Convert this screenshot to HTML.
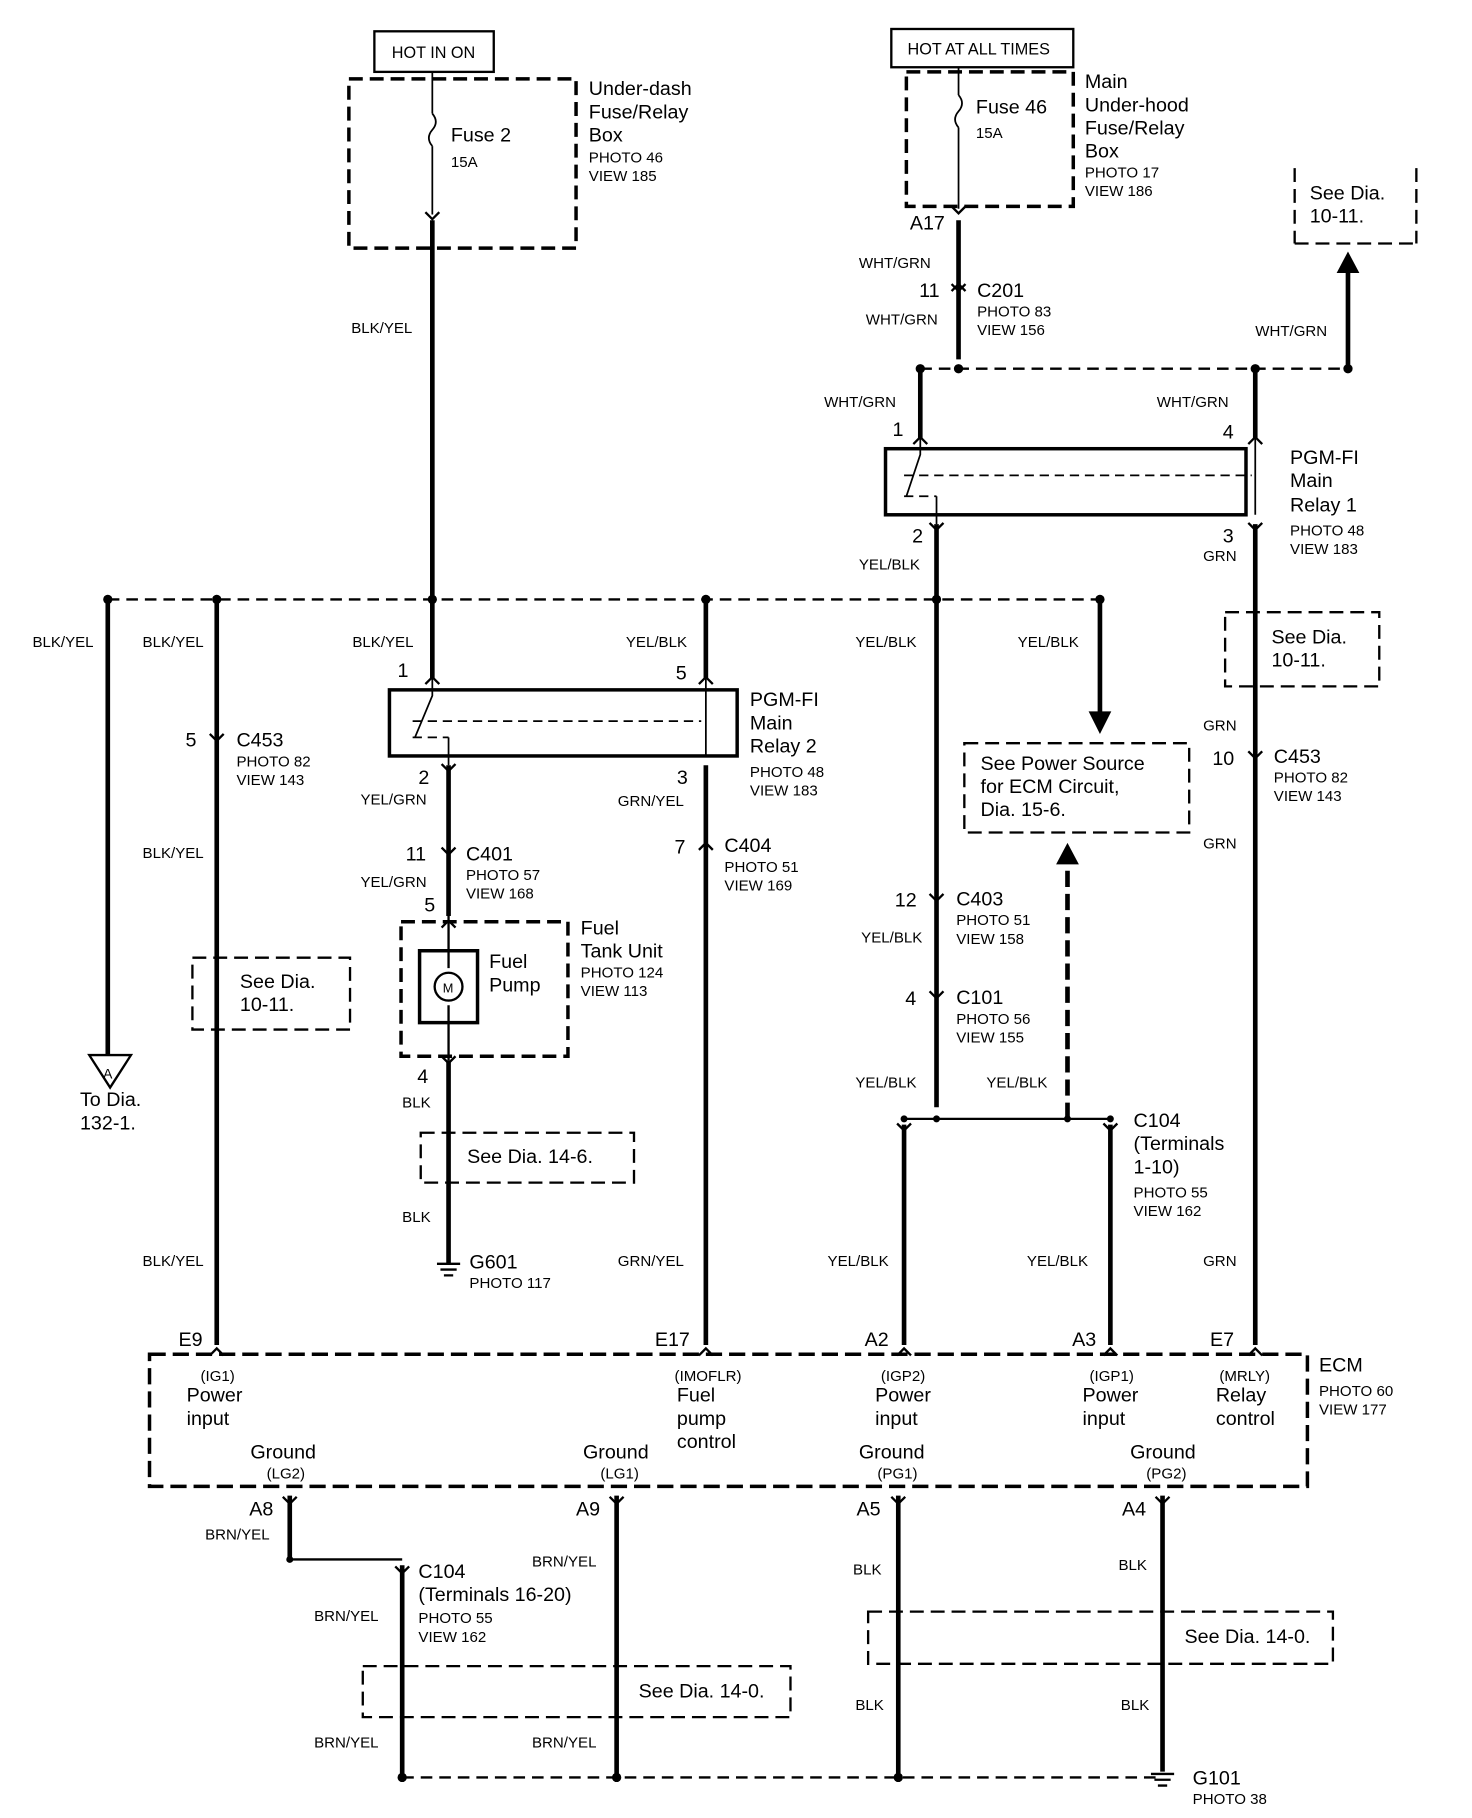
<!DOCTYPE html>
<html><head><meta charset="utf-8"><style>
html,body{margin:0;padding:0;background:#fff}
svg{display:block}
text{font-family:"Liberation Sans",sans-serif;fill:#000}
.b{font-size:17px}.s{font-size:13px}.m{font-size:14px}
</style></head><body>
<svg width="1472" height="1818" viewBox="0 0 1270 1568" preserveAspectRatio="none" xmlns="http://www.w3.org/2000/svg">
<defs>
<g id="cd"><path d="M-6,-7 L0,-1 L6,-7" fill="none" stroke="#000" stroke-width="2"/></g>
<g id="cu"><path d="M-6,7 L0,1 L6,7" fill="none" stroke="#000" stroke-width="2"/></g>
</defs>
<g stroke="#000" fill="none">
<!-- top boxes -->
<rect x="323" y="27" width="103" height="35" stroke-width="2"/>
<rect x="301" y="68" width="196" height="146" stroke-width="3" stroke-dasharray="12,6"/>
<rect x="769" y="25" width="157" height="33" stroke-width="2"/>
<rect x="782" y="62" width="144" height="116" stroke-width="3" stroke-dasharray="12,6"/>
<path d="M373,62V98 M373,126V185 M827,58V82 M827,122V180" stroke-width="1.5"/>
<path d="M373,98 q6,7 0,14 q-6,7 0,14 M827,82 q6,7 0,14 q-6,7 0,14 M827,110 V122" stroke-width="1.5"/>
<!-- thick wires -->
<g stroke-width="4">
<path d="M373,190V585 M827,190V310 M794,318V378 M1083,318V378 M1163,318V232 M808,452V955 M1083,452V1160 M93,517V910 M187,517V1160 M609,517V585 M609,660V1160 M387,660V790 M387,915V1090 M949,517V618 M780,970V1160 M958,970V1160 M250,1290V1345 M347,1350V1533 M532,1290V1533 M775,1290V1533 M1003,1290V1528"/>
<path d="M921,965V740" stroke-dasharray="14,6"/>
</g>
<path d="M1154,235 L1163,218 L1172,235Z" fill="#000"/>
<path d="M940,614 L949,632 L958,614Z" fill="#000"/>
<path d="M912,745 L921,728 L930,745Z" fill="#000"/>
<!-- dashed buses -->
<path d="M794,318H1163 M93,517H949 M347,1533H1003" stroke-width="2" stroke-dasharray="10,6"/>
<path d="M778,965H958 M250,1345H347" stroke-width="2"/>
<!-- see dia boxes -->
<path d="M1117,145V210 M1222,145V210 M1117,210H1222" stroke-width="2" stroke-dasharray="12,6"/>
<path d="M1057,528H1190V592H1057Z" stroke-width="2" stroke-dasharray="12,6"/>
<path d="M166,826H302V888H166Z" stroke-width="2" stroke-dasharray="12,6"/>
<path d="M363,977H547V1020H363Z" stroke-width="2" stroke-dasharray="12,6"/>
<path d="M832,641H1026V718H832Z" stroke-width="2" stroke-dasharray="12,6"/>
<path d="M313,1437H682V1481H313Z" stroke-width="2" stroke-dasharray="12,6"/>
<path d="M749,1390H1150V1435H749Z" stroke-width="2" stroke-dasharray="12,6"/>
<!-- relays -->
<rect x="764" y="387" width="311" height="57" stroke-width="3"/>
<path d="M780,410H1080 M780,428H808" stroke-width="1.5" stroke-dasharray="8,5"/>
<path d="M794,378V392 L782,428 M808,428V452 M1083,378V444" stroke-width="1.5"/>
<rect x="336" y="595" width="300" height="57" stroke-width="3"/>
<path d="M356,622H605 M356,636H387" stroke-width="1.5" stroke-dasharray="8,5"/>
<path d="M373,585V600 L358,636 M387,636V660 M609,585V652" stroke-width="1.5"/>
<!-- fuel tank -->
<rect x="346" y="795" width="144" height="116" stroke-width="3" stroke-dasharray="12,6"/>
<rect x="362" y="820" width="50" height="62" stroke-width="3"/>
<path d="M387,790V835 M387,867V915" stroke-width="2"/>
<circle cx="387" cy="851" r="12" stroke-width="2"/>
<!-- ECM -->
<rect x="129" y="1168" width="999" height="114" stroke-width="3" stroke-dasharray="14,6"/>
<!-- triangle -->
<path d="M77,910H113L95,938Z" stroke-width="2"/>
</g>
<g fill="#000">
<circle cx="794" cy="318" r="4"/><circle cx="827" cy="318" r="4"/><circle cx="1083" cy="318" r="4"/><circle cx="1163" cy="318" r="4"/>
<circle cx="93" cy="517" r="4"/><circle cx="187" cy="517" r="4"/><circle cx="373" cy="517" r="4"/><circle cx="609" cy="517" r="4"/><circle cx="808" cy="517" r="4"/><circle cx="949" cy="517" r="4"/>
<circle cx="780" cy="965" r="3"/><circle cx="808" cy="965" r="3"/><circle cx="921" cy="965" r="3"/><circle cx="958" cy="965" r="3"/>
<circle cx="250" cy="1345" r="3"/><circle cx="347" cy="1533" r="4"/><circle cx="532" cy="1533" r="4"/><circle cx="775" cy="1533" r="4"/>
</g>
<!-- connectors -->
<use href="#cd" x="373" y="190"/><use href="#cd" x="827" y="185"/><use href="#cu" x="827" y="244"/><use href="#cd" x="827" y="252"/>
<use href="#cu" x="794" y="376"/><use href="#cu" x="1083" y="376"/><use href="#cd" x="808" y="458"/><use href="#cd" x="1083" y="458"/>
<use href="#cu" x="373" y="583"/><use href="#cu" x="609" y="583"/><use href="#cd" x="387" y="666"/>
<use href="#cd" x="187" y="640"/><use href="#cd" x="1083" y="655"/><use href="#cd" x="387" y="738"/><use href="#cu" x="609" y="726"/>
<use href="#cu" x="387" y="793"/><use href="#cd" x="387" y="918"/><use href="#cd" x="808" y="778"/><use href="#cd" x="808" y="862"/>
<use href="#cd" x="780" y="976"/><use href="#cd" x="958" y="976"/>
<use href="#cu" x="187" y="1162"/><use href="#cu" x="609" y="1162"/><use href="#cu" x="780" y="1162"/><use href="#cu" x="958" y="1162"/><use href="#cu" x="1083" y="1162"/>
<use href="#cd" x="250" y="1298"/><use href="#cd" x="532" y="1298"/><use href="#cd" x="775" y="1298"/><use href="#cd" x="1003" y="1298"/><use href="#cd" x="347" y="1358"/>
<!-- grounds -->
<g stroke="#000" stroke-width="2"><path d="M377,1090H397 M380,1095H394 M383,1100H391 M993,1530H1013 M996,1535H1010 M999,1540H1007"/></g>
<!-- text -->
<text x="338" y="50" class="m">HOT IN ON</text>
<text x="783" y="47" class="m">HOT AT ALL TIMES</text>
<text x="508" y="82" class="b">Under-dash</text><text x="508" y="102" class="b">Fuse/Relay</text><text x="508" y="122" class="b">Box</text>
<text x="508" y="140" class="s">PHOTO 46</text><text x="508" y="156" class="s">VIEW 185</text>
<text x="389" y="122" class="b">Fuse 2</text><text x="389" y="144" class="s">15A</text>
<text x="842" y="98" class="b">Fuse 46</text><text x="842" y="119" class="s">15A</text>
<text x="936" y="76" class="b">Main</text><text x="936" y="96" class="b">Under-hood</text><text x="936" y="116" class="b">Fuse/Relay</text><text x="936" y="136" class="b">Box</text>
<text x="936" y="153" class="s">PHOTO 17</text><text x="936" y="169" class="s">VIEW 186</text>
<text x="785" y="198" class="b">A17</text>
<text x="741" y="231" class="s">WHT/GRN</text><text x="793" y="256" class="b">11</text><text x="843" y="256" class="b">C201</text>
<text x="747" y="280" class="s">WHT/GRN</text><text x="843" y="273" class="s">PHOTO 83</text><text x="843" y="289" class="s">VIEW 156</text>
<text x="1130" y="172" class="b">See Dia.</text><text x="1130" y="192" class="b">10-11.</text>
<text x="1083" y="290" class="s">WHT/GRN</text>
<text x="711" y="351" class="s">WHT/GRN</text><text x="998" y="351" class="s">WHT/GRN</text>
<text x="770" y="376" class="b">1</text><text x="1055" y="378" class="b">4</text>
<text x="1113" y="400" class="b">PGM-FI</text><text x="1113" y="420" class="b">Main</text><text x="1113" y="441" class="b">Relay 1</text>
<text x="1113" y="462" class="s">PHOTO 48</text><text x="1113" y="478" class="s">VIEW 183</text>
<text x="787" y="468" class="b">2</text><text x="1055" y="468" class="b">3</text>
<text x="741" y="491" class="s">YEL/BLK</text><text x="1038" y="484" class="s">GRN</text>
<text x="28" y="558" class="s">BLK/YEL</text><text x="123" y="558" class="s">BLK/YEL</text><text x="304" y="558" class="s">BLK/YEL</text>
<text x="540" y="558" class="s">YEL/BLK</text><text x="738" y="558" class="s">YEL/BLK</text><text x="878" y="558" class="s">YEL/BLK</text>
<text x="303" y="287" class="s">BLK/YEL</text>
<text x="1097" y="555" class="b">See Dia.</text><text x="1097" y="575" class="b">10-11.</text>
<text x="343" y="584" class="b">1</text><text x="583" y="586" class="b">5</text>
<text x="647" y="609" class="b">PGM-FI</text><text x="647" y="629" class="b">Main</text><text x="647" y="649" class="b">Relay 2</text>
<text x="647" y="670" class="s">PHOTO 48</text><text x="647" y="686" class="s">VIEW 183</text>
<text x="160" y="644" class="b">5</text><text x="204" y="644" class="b">C453</text><text x="204" y="661" class="s">PHOTO 82</text><text x="204" y="677" class="s">VIEW 143</text>
<text x="1038" y="630" class="s">GRN</text><text x="1046" y="660" class="b">10</text><text x="1099" y="658" class="b">C453</text><text x="1099" y="675" class="s">PHOTO 82</text><text x="1099" y="691" class="s">VIEW 143</text>
<text x="846" y="664" class="b">See Power Source</text><text x="846" y="684" class="b">for ECM Circuit,</text><text x="846" y="704" class="b">Dia. 15-6.</text>
<text x="361" y="676" class="b">2</text><text x="584" y="676" class="b">3</text>
<text x="311" y="694" class="s">YEL/GRN</text><text x="533" y="695" class="s">GRN/YEL</text>
<text x="1038" y="732" class="s">GRN</text>
<text x="123" y="740" class="s">BLK/YEL</text>
<text x="350" y="742" class="b">11</text><text x="402" y="742" class="b">C401</text><text x="402" y="759" class="s">PHOTO 57</text><text x="402" y="775" class="s">VIEW 168</text>
<text x="311" y="765" class="s">YEL/GRN</text><text x="366" y="786" class="b">5</text>
<text x="582" y="736" class="b">7</text><text x="625" y="735" class="b">C404</text><text x="625" y="752" class="s">PHOTO 51</text><text x="625" y="768" class="s">VIEW 169</text>
<text x="772" y="782" class="b">12</text><text x="825" y="781" class="b">C403</text><text x="825" y="798" class="s">PHOTO 51</text><text x="825" y="814" class="s">VIEW 158</text>
<text x="743" y="813" class="s">YEL/BLK</text>
<text x="501" y="806" class="b">Fuel</text><text x="501" y="826" class="b">Tank Unit</text><text x="501" y="843" class="s">PHOTO 124</text><text x="501" y="859" class="s">VIEW 113</text>
<text x="422" y="835" class="b">Fuel</text><text x="422" y="855" class="b">Pump</text>
<text x="382" y="856" style="font-size:11px">M</text>
<text x="207" y="852" class="b">See Dia.</text><text x="207" y="872" class="b">10-11.</text>
<text x="781" y="867" class="b">4</text><text x="825" y="866" class="b">C101</text><text x="825" y="883" class="s">PHOTO 56</text><text x="825" y="899" class="s">VIEW 155</text>
<text x="89" y="930" style="font-size:12px">A</text>
<text x="69" y="954" class="b">To Dia.</text><text x="69" y="974" class="b">132-1.</text>
<text x="360" y="934" class="b">4</text><text x="347" y="955" class="s">BLK</text>
<text x="738" y="938" class="s">YEL/BLK</text><text x="851" y="938" class="s">YEL/BLK</text>
<text x="978" y="972" class="b">C104</text><text x="978" y="992" class="b">(Terminals</text><text x="978" y="1012" class="b">1-10)</text>
<text x="978" y="1033" class="s">PHOTO 55</text><text x="978" y="1049" class="s">VIEW 162</text>
<text x="403" y="1003" class="b">See Dia. 14-6.</text>
<text x="347" y="1054" class="s">BLK</text>
<text x="405" y="1094" class="b">G601</text><text x="405" y="1111" class="s">PHOTO 117</text>
<text x="123" y="1092" class="s">BLK/YEL</text><text x="533" y="1092" class="s">GRN/YEL</text><text x="714" y="1092" class="s">YEL/BLK</text><text x="886" y="1092" class="s">YEL/BLK</text><text x="1038" y="1092" class="s">GRN</text>
<text x="154" y="1161" class="b">E9</text><text x="565" y="1161" class="b">E17</text><text x="746" y="1161" class="b">A2</text><text x="925" y="1161" class="b">A3</text><text x="1044" y="1161" class="b">E7</text>
<text x="1138" y="1183" class="b">ECM</text><text x="1138" y="1204" class="s">PHOTO 60</text><text x="1138" y="1220" class="s">VIEW 177</text>
<text x="173" y="1191" class="s">(IG1)</text><text x="161" y="1209" class="b">Power</text><text x="161" y="1229" class="b">input</text>
<text x="582" y="1191" class="s">(IMOFLR)</text><text x="584" y="1209" class="b">Fuel</text><text x="584" y="1229" class="b">pump</text><text x="584" y="1249" class="b">control</text>
<text x="760" y="1191" class="s">(IGP2)</text><text x="755" y="1209" class="b">Power</text><text x="755" y="1229" class="b">input</text>
<text x="940" y="1191" class="s">(IGP1)</text><text x="934" y="1209" class="b">Power</text><text x="934" y="1229" class="b">input</text>
<text x="1052" y="1191" class="s">(MRLY)</text><text x="1049" y="1209" class="b">Relay</text><text x="1049" y="1229" class="b">control</text>
<text x="216" y="1258" class="b">Ground</text><text x="230" y="1275" class="s">(LG2)</text>
<text x="503" y="1258" class="b">Ground</text><text x="518" y="1275" class="s">(LG1)</text>
<text x="741" y="1258" class="b">Ground</text><text x="757" y="1275" class="s">(PG1)</text>
<text x="975" y="1258" class="b">Ground</text><text x="989" y="1275" class="s">(PG2)</text>
<text x="215" y="1307" class="b">A8</text><text x="497" y="1307" class="b">A9</text><text x="739" y="1307" class="b">A5</text><text x="968" y="1307" class="b">A4</text>
<text x="177" y="1328" class="s">BRN/YEL</text><text x="459" y="1351" class="s">BRN/YEL</text><text x="736" y="1358" class="s">BLK</text><text x="965" y="1354" class="s">BLK</text>
<text x="361" y="1361" class="b">C104</text><text x="361" y="1381" class="b">(Terminals 16-20)</text><text x="361" y="1400" class="s">PHOTO 55</text><text x="361" y="1416" class="s">VIEW 162</text>
<text x="271" y="1398" class="s">BRN/YEL</text>
<text x="1022" y="1417" class="b">See Dia. 14-0.</text>
<text x="551" y="1464" class="b">See Dia. 14-0.</text>
<text x="738" y="1475" class="s">BLK</text><text x="967" y="1475" class="s">BLK</text>
<text x="271" y="1507" class="s">BRN/YEL</text><text x="459" y="1507" class="s">BRN/YEL</text>
<text x="1029" y="1539" class="b">G101</text><text x="1029" y="1556" class="s">PHOTO 38</text>
</svg>
</body></html>
